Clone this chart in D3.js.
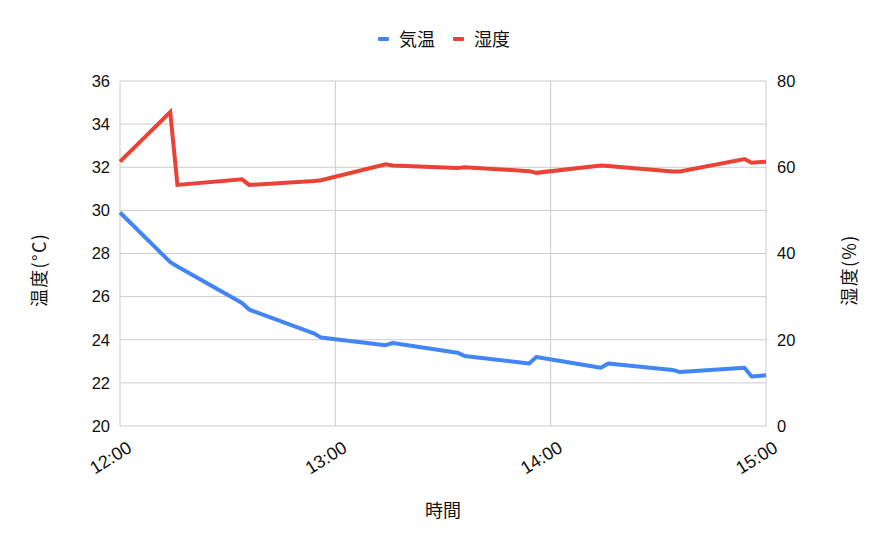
<!DOCTYPE html>
<html>
<head>
<meta charset="utf-8">
<script src="https://cdnjs.cloudflare.com/ajax/libs/d3/7.8.5/d3.min.js"></script>
<style>
  body { margin: 0; background: #fff; }
  svg { font-family: "Liberation Sans", Arial, "Noto Sans CJK JP", sans-serif; }
</style>
</head>
<body>
<svg width="887" height="549"></svg>
<script>
var svg = d3.select('svg');

// data
var times = ['12:00', '12:14', '12:16', '12:34', '12:36', '12:54', '12:56',
    '13:14', '13:16', '13:34', '13:36', '13:54', '13:56',
    '14:14', '14:16', '14:34', '14:36', '14:54', '14:56', '15:00'];
var temperature = [29.9, 27.6, 27.4, 25.7, 25.4, 24.3, 24.1,
    23.75, 23.85, 23.4, 23.25, 22.9, 23.2,
    22.7, 22.9, 22.6, 22.5, 22.7, 22.3, 22.35];
var humidity = [61.3, 72.8, 55.9, 57.2, 55.9, 56.8, 57.0,
    60.7, 60.4, 59.8, 60.0, 59.1, 58.7,
    60.4, 60.3, 59.0, 59.0, 61.9, 61.05, 61.3];
var xTicks = ['12:00', '13:00', '14:00', '15:00'];
var leftTicks = [20, 22, 24, 26, 28, 30, 32, 34, 36];
var rightTicks = [0, 20, 40, 60, 80];

var seriesNames = ['気温', '湿度'];
var colors = ['#4285F4', '#EA4335'];

var plotL = 120, plotR = 766, plotT = 81, plotB = 426;
var cjk = '"Noto Sans CJK JP", "Liberation Sans", sans-serif';

var parse = d3.timeParse('%H:%M');

var x = d3.scaleTime()
    .domain([parse('12:00'), parse('15:00')])
    .range([plotL, plotR]);
var yL = d3.scaleLinear().domain([20, 36]).range([plotB, plotT]);
var yR = d3.scaleLinear().domain([0, 80]).range([plotB, plotT]);

// grid
svg.append('g')
    .selectAll('line')
    .data(leftTicks)
    .enter()
    .append('line')
    .attr('x1', plotL).attr('x2', plotR)
    .attr('y1', function(d){ return yL(d); })
    .attr('y2', function(d){ return yL(d); })
    .attr('stroke', '#cccccc')
    .attr('stroke-width', 1);

svg.append('g')
    .selectAll('line')
    .data(xTicks)
    .enter()
    .append('line')
    .attr('x1', function(d){ return x(parse(d)); })
    .attr('x2', function(d){ return x(parse(d)); })
    .attr('y1', plotT).attr('y2', plotB)
    .attr('stroke', '#cccccc')
    .attr('stroke-width', 1);

// axes (labels only, google charts style)
var axisL = svg.append('g')
    .attr('transform', 'translate(' + plotL + ',0)')
    .call(d3.axisLeft(yL).tickValues(leftTicks).tickSize(0).tickPadding(10));
var axisR = svg.append('g')
    .attr('transform', 'translate(' + plotR + ',0)')
    .call(d3.axisRight(yR).tickValues(rightTicks).tickSize(0).tickPadding(11));
[axisL, axisR].forEach(function(a){
    a.select('.domain').remove();
    a.selectAll('text')
        .attr('font-size', 16.5)
        .attr('fill', '#111')
        .attr('font-family', '"Liberation Sans", Arial, sans-serif');
});

svg.append('g')
    .selectAll('text')
    .data(xTicks)
    .enter()
    .append('text')
    .attr('transform', function(d){
        return 'translate(' + (x(parse(d)) + 13) + ',451) rotate(-32)';
    })
    .attr('text-anchor', 'end')
    .attr('font-size', 18)
    .attr('fill', '#111')
    .text(function(d){ return d; });

// lines
var lineT = d3.line()
    .x(function(d, i){ return x(parse(times[i])); })
    .y(function(d){ return yL(d); });
var lineH = d3.line()
    .x(function(d, i){ return x(parse(times[i])); })
    .y(function(d){ return yR(d); });

svg.append('path')
    .datum(temperature)
    .attr('d', lineT)
    .attr('fill', 'none')
    .attr('stroke', colors[0])
    .attr('stroke-width', 4)
    .attr('stroke-linejoin', 'round');

svg.append('path')
    .datum(humidity)
    .attr('d', lineH)
    .attr('fill', 'none')
    .attr('stroke', colors[1])
    .attr('stroke-width', 4)
    .attr('stroke-linejoin', 'miter');

// axis titles
svg.append('text')
    .attr('x', 443).attr('y', 517)
    .attr('text-anchor', 'middle')
    .attr('font-size', 18)
    .attr('font-family', cjk)
    .attr('fill', '#111')
    .text('時間');

svg.append('text')
    .attr('transform', 'translate(46,270) rotate(-90)')
    .attr('text-anchor', 'middle')
    .attr('font-size', 18)
    .attr('letter-spacing', 1.3)
    .attr('font-family', cjk)
    .attr('fill', '#111')
    .text('温度(°C)');

svg.append('text')
    .attr('transform', 'translate(856,270) rotate(-90)')
    .attr('text-anchor', 'middle')
    .attr('font-size', 18)
    .attr('letter-spacing', 1.3)
    .attr('font-family', cjk)
    .attr('fill', '#111')
    .text('湿度(%)');

// legend
var legendX = [378, 453];
var legend = svg.append('g')
    .selectAll('g')
    .data(seriesNames)
    .enter()
    .append('g')
    .attr('transform', function(d, i){ return 'translate(' + legendX[i] + ',39)'; });

legend.append('rect')
    .attr('x', 0).attr('y', -2)
    .attr('width', 11).attr('height', 4)
    .attr('rx', 1)
    .attr('fill', function(d, i){ return colors[i]; });

legend.append('text')
    .attr('x', 21).attr('y', 7)
    .attr('font-size', 18)
    .attr('font-family', cjk)
    .attr('fill', '#111')
    .text(function(d){ return d; });
</script>
</body>
</html>
